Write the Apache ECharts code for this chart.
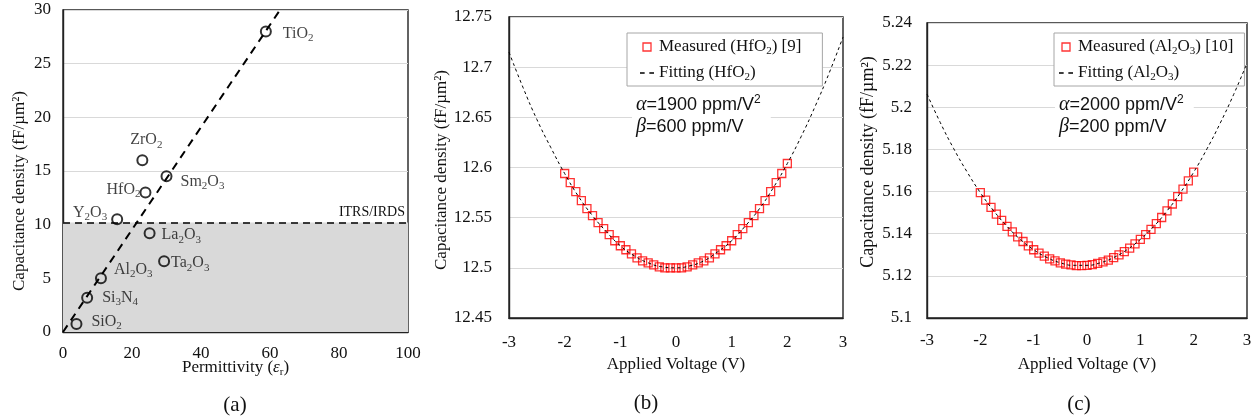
<!DOCTYPE html>
<html>
<head>
<meta charset="utf-8">
<script src="https://cdn.jsdelivr.net/npm/echarts@6/dist/echarts.min.js"></script>
<style>
html,body{margin:0;padding:0;background:#fff;}
#chart{width:1260px;height:420px;}
</style>
</head>
<body>
<div id="chart"></div>
<script>
// ---------- Panel (a) data ----------
const materials = ['SiO2', 'Si3N4', 'Al2O3', 'Y2O3', 'La2O3', 'Ta2O3', 'HfO2', 'ZrO2', 'Sm2O3', 'TiO2'];
const materialLabels = ['SiO{s|2}', 'Si{s|3}N{s|4}', 'Al{s|2}O{s|3}', 'Y{s|2}O{s|3}', 'La{s|2}O{s|3}', 'Ta{s|2}O{s|3}', 'HfO{s|2}', 'ZrO{s|2}', 'Sm{s|2}O{s|3}', 'TiO{s|2}'];
const permittivity = [3.9, 7, 11, 15.7, 25.1, 29.3, 23.9, 23, 30, 58.8];
const capDensity = [0.75, 3.2, 5.0, 10.5, 9.2, 6.6, 13.0, 16.0, 14.5, 28.0];
const fitPermittivity = [0, 62.9];
const fitCapDensity = [0, 30];
const itrsLevel = 10.2;

// ---------- Panels (b), (c) data ----------
const voltage = [-2.0,-1.9,-1.8,-1.7,-1.6,-1.5,-1.4,-1.3,-1.2,-1.1,-1.0,-0.9,-0.8,-0.7,-0.6,-0.5,-0.4,-0.3,-0.2,-0.1,0,
  0.1,0.2,0.3,0.4,0.5,0.6,0.7,0.8,0.9,1.0,1.1,1.2,1.3,1.4,1.5,1.6,1.7,1.8,1.9,2.0];
const hfMeasured = [12.594,12.585,12.576,12.567,12.559,12.552,12.545,12.539,12.533,12.527,12.522,12.518,12.514,12.510,12.507,12.505,12.503,12.501,12.500,12.500,12.500,
  12.500,12.501,12.503,12.505,12.507,12.510,12.514,12.518,12.522,12.527,12.533,12.539,12.545,12.552,12.559,12.567,12.576,12.585,12.594,12.604];
const alMeasured = [5.1595,5.1559,5.1525,5.1493,5.1463,5.1435,5.1409,5.1385,5.1363,5.1342,5.1324,5.1308,5.1294,5.1281,5.1271,5.1262,5.1256,5.1252,5.1249,5.1249,5.1250,
  5.1253,5.1259,5.1266,5.1275,5.1287,5.1300,5.1315,5.1332,5.1352,5.1373,5.1396,5.1421,5.1448,5.1477,5.1508,5.1541,5.1576,5.1612,5.1651,5.1692];
const fitVoltage = [-3,-2.75,-2.5,-2.25,-2,-1.75,-1.5,-1.25,-1,-0.75,-0.5,-0.25,0,0.25,0.5,0.75,1,1.25,1.5,1.75,2,2.25,2.5,2.75,3];
const hfFit = [12.715,12.680,12.648,12.620,12.594,12.571,12.552,12.536,12.522,12.512,12.505,12.501,12.500,12.502,12.507,12.516,12.527,12.542,12.559,12.580,12.604,12.631,12.661,12.694,12.730];
const alFit = [5.2063,5.1927,5.1804,5.1694,5.1595,5.1509,5.1435,5.1373,5.1324,5.1287,5.1262,5.1250,5.1250,5.1262,5.1287,5.1324,5.1373,5.1434,5.1508,5.1594,5.1692,5.1803,5.1926,5.2061,5.2209];

const seriesNames = ['Measured (HfO2) [9]', 'Fitting (HfO2)', 'Measured (Al2O3) [10]', 'Fitting (Al2O3)'];
const seriesLabels = ['Measured (HfO{s|2}) [9]', 'Fitting (HfO{s|2})', 'Measured (Al{s|2}O{s|3}) [10]', 'Fitting (Al{s|2}O{s|3})'];
const yTitle = 'Capacitance density (fF/\u00b5m\u00b2)';
const xTitleB = 'Applied Voltage (V)';
const annotB = '{i|\u03b1}=1900 ppm/V{p|2}\n{i|\u03b2}=600 ppm/V';
const annotC = '{i|\u03b1}=2000 ppm/V{p|2}\n{i|\u03b2}=200 ppm/V';

// ---------- styles ----------
const SERIF = "'Liberation Serif','Times New Roman',serif";
const SANS = "'Liberation Sans',Arial,sans-serif";
const TXT = '#111';
const subStyle = {fontSize: 11, lineHeight: 11, verticalAlign: 'bottom', fontFamily: SERIF, color: TXT};
const supStyle = {fontSize: 12, lineHeight: 12, verticalAlign: 'top', fontFamily: SANS, color: TXT};
const richSerif = {s: subStyle, i: {fontFamily: SERIF, fontStyle: 'italic', fontSize: 17, color: TXT}};
const labelPlacement = [
  {position: 'right', distance: 9, offset: [0, -2]},
  {position: 'right', distance: 9, offset: [0, 0]},
  {position: 'right', distance: 7, offset: [0, -9]},
  {position: 'left', distance: 4, offset: [0, -7]},
  {position: 'right', distance: 6, offset: [0, 2]},
  {position: 'right', distance: 1, offset: [0, 2]},
  {position: 'left', distance: -1, offset: [0, -3]},
  {position: 'top', distance: 4, offset: [4, 0]},
  {position: 'right', distance: 8, offset: [0, 5]},
  {position: 'right', distance: 11, offset: [0, 2]}
];
const squareIcon = 'path://M0,0L8,0L8,8L0,8Z';
const dashIcon = 'path://M0,0L4,0L4,1.3L0,1.3Z M8,0L12,0L12,1.3L8,1.3Z';
const measuredIconStyle = {color: 'rgba(255,255,255,0)', borderColor: '#ff0000', borderWidth: 1.3};
const fitIconStyle = {color: '#000', borderWidth: 0};

function axisCommon(extra) {
  return Object.assign({
    axisLine: {show: true, onZero: false, lineStyle: {color: '#222', width: 1.4}},
    axisTick: {show: false},
    axisLabel: {color: TXT, fontFamily: SERIF, fontSize: 17},
    splitLine: {show: false},
    nameMoveOverlap: false,
    nameTextStyle: {color: TXT, fontFamily: SERIF, fontSize: 17}
  }, extra);
}
const gridLine = {show: true, lineStyle: {color: '#d9d9d9', width: 1}};

const gridBase = {show: true, borderColor: '#222', borderWidth: 1.4, backgroundColor: 'rgba(0,0,0,0)', containLabel: false, outerBoundsMode: 'none'};

const chart = echarts.init(document.getElementById('chart'), null, {renderer: 'canvas'});

const scatterA = permittivity.map((x, i) => ({
  value: [x, capDensity[i]],
  name: materials[i],
  label: labelPlacement[i]
}));
const fitA = fitPermittivity.map((x, i) => [x, fitCapDensity[i]]);

const legendCommon = {
  orient: 'vertical', itemGap: 6, itemWidth: 14, itemHeight: 8,
  backgroundColor: '#fff', borderColor: '#a6a6a6', borderWidth: 1, borderRadius: 0,
  selectedMode: false, symbolKeepAspect: true,
  textStyle: {fontFamily: SERIF, fontSize: 17, lineHeight: 20, color: TXT, rich: {s: subStyle}},
  formatter: function (name) { return seriesLabels[seriesNames.indexOf(name)]; }
};

const option = {
  animation: false,
  backgroundColor: '#fff',
  grid: [
    Object.assign({left: 63, top: 10, width: 345, height: 322}, gridBase),
    Object.assign({left: 509, top: 17, width: 334, height: 301}, gridBase),
    Object.assign({left: 927, top: 23, width: 320, height: 295}, gridBase)
  ],
  xAxis: [
    axisCommon({gridIndex: 0, type: 'value', min: 0, max: 100, interval: 20,
      name: 'Permittivity ({i|\u03b5}{s|r})', nameLocation: 'middle', nameGap: 26,
      nameTextStyle: {color: TXT, fontFamily: SERIF, fontSize: 17, lineHeight: 20, rich: richSerif},
      axisLabel: {color: TXT, fontFamily: SERIF, fontSize: 17, margin: 13}}),
    axisCommon({gridIndex: 1, type: 'value', min: -3, max: 3, interval: 1,
      name: xTitleB, nameLocation: 'middle', nameGap: 38,
      axisLabel: {color: TXT, fontFamily: SERIF, fontSize: 17, margin: 16}}),
    axisCommon({gridIndex: 2, type: 'value', min: -3, max: 3, interval: 1,
      name: xTitleB, nameLocation: 'middle', nameGap: 38,
      axisLabel: {color: TXT, fontFamily: SERIF, fontSize: 17, margin: 14}})
  ],
  yAxis: [
    axisCommon({gridIndex: 0, type: 'value', min: 0, max: 30, interval: 5, splitLine: gridLine,
      axisLabel: {color: TXT, fontFamily: SERIF, fontSize: 17, margin: 12}}),
    axisCommon({gridIndex: 1, type: 'value', min: 12.45, max: 12.75, interval: 0.05, splitLine: gridLine,
      axisLabel: {color: TXT, fontFamily: SERIF, fontSize: 17, margin: 17}}),
    axisCommon({gridIndex: 2, type: 'value', min: 5.1, max: 5.24, interval: 0.02, splitLine: gridLine,
      axisLabel: {color: TXT, fontFamily: SERIF, fontSize: 17, margin: 15}})
  ],
  legend: [
    Object.assign({}, legendCommon, {
      data: [
        {name: seriesNames[0], icon: squareIcon, itemStyle: measuredIconStyle},
        {name: seriesNames[1], icon: dashIcon, itemStyle: fitIconStyle}
      ],
      left: 627, top: 33, padding: [4, 21, 3, 13]}),
    Object.assign({}, legendCommon, {
      data: [
        {name: seriesNames[2], icon: squareIcon, itemStyle: measuredIconStyle},
        {name: seriesNames[3], icon: dashIcon, itemStyle: fitIconStyle}
      ],
      left: 1054, top: 33, padding: [4, 11, 3, 5]})
  ],
  series: [
    {
      type: 'line', name: 'fitA', xAxisIndex: 0, yAxisIndex: 0,
      data: fitA, symbol: 'none', z: 3,
      lineStyle: {color: '#000', width: 2, type: [8, 6]},
      markArea: {silent: true, itemStyle: {color: '#d9d9d9'}, data: [[{yAxis: 0}, {yAxis: itrsLevel}]]},
      markLine: {silent: true, symbol: 'none',
        lineStyle: {color: '#000', width: 1.6, type: [7, 5]},
        label: {show: true, position: 'insideEndTop', formatter: 'ITRS/IRDS', color: TXT,
          fontFamily: SERIF, fontSize: 14, distance: 3},
        data: [{yAxis: itrsLevel}]}
    },
    {
      type: 'scatter', name: 'materials', xAxisIndex: 0, yAxisIndex: 0,
      data: scatterA, symbol: 'circle', symbolSize: 10, z: 4,
      itemStyle: {color: 'rgba(0,0,0,0)', borderColor: '#000', borderWidth: 2},
      label: {show: true, color: TXT, fontFamily: SERIF, fontSize: 16, lineHeight: 20,
        rich: {s: subStyle},
        formatter: function (p) { return materialLabels[p.dataIndex]; }}
    },
    {
      type: 'scatter', name: seriesNames[0], xAxisIndex: 1, yAxisIndex: 1,
      data: voltage.map((v, i) => [v, hfMeasured[i]]),
      symbol: 'rect', symbolSize: 8, z: 3,
      itemStyle: {color: 'rgba(255,255,255,0)', borderColor: '#ff0000', borderWidth: 1.3}
    },
    {
      type: 'line', name: seriesNames[1], xAxisIndex: 1, yAxisIndex: 1,
      data: fitVoltage.map((v, i) => [v, hfFit[i]]), smooth: true,
      symbol: 'none', z: 4, color: '#000', lineStyle: {color: '#000', width: 1, type: [3, 3]}
    },
    {
      type: 'scatter', name: seriesNames[2], xAxisIndex: 2, yAxisIndex: 2,
      data: voltage.map((v, i) => [v, alMeasured[i]]),
      symbol: 'rect', symbolSize: 8, z: 3,
      itemStyle: {color: 'rgba(255,255,255,0)', borderColor: '#ff0000', borderWidth: 1.3}
    },
    {
      type: 'line', name: seriesNames[3], xAxisIndex: 2, yAxisIndex: 2,
      data: fitVoltage.map((v, i) => [v, alFit[i]]), smooth: true,
      symbol: 'none', z: 4, color: '#000', lineStyle: {color: '#000', width: 1, type: [3, 3]}
    }
  ],
  graphic: [
    {type: 'text', x: 20, y: 191, rotation: Math.PI / 2, z: 10,
      style: {text: yTitle, fill: TXT, fontFamily: SERIF, fontSize: 17, align: 'center', verticalAlign: 'middle', textAlign: 'center', textVerticalAlign: 'middle'}},
    {type: 'text', x: 442, y: 170, rotation: Math.PI / 2, z: 10,
      style: {text: yTitle, fill: TXT, fontFamily: SERIF, fontSize: 17, align: 'center', verticalAlign: 'middle', textAlign: 'center', textVerticalAlign: 'middle'}},
    {type: 'text', x: 868, y: 162, rotation: Math.PI / 2, z: 10,
      style: {text: yTitle, fill: TXT, fontFamily: SERIF, fontSize: 18, align: 'center', verticalAlign: 'middle', textAlign: 'center', textVerticalAlign: 'middle'}},
    {type: 'text', x: 632, y: 93, z: 10,
      style: {text: annotB, fill: TXT, fontFamily: SANS, fontSize: 18, lineHeight: 22,
        backgroundColor: '#fff', padding: [1, 10, 1, 4],
        rich: {i: {fontFamily: SERIF, fontStyle: 'italic', fontSize: 20, lineHeight: 22, color: TXT}, p: supStyle}}},
    {type: 'text', x: 1055, y: 93, z: 10,
      style: {text: annotC, fill: TXT, fontFamily: SANS, fontSize: 18, lineHeight: 22,
        backgroundColor: '#fff', padding: [1, 10, 1, 4],
        rich: {i: {fontFamily: SERIF, fontStyle: 'italic', fontSize: 20, lineHeight: 22, color: TXT}, p: supStyle}}},
    {type: 'text', x: 235, y: 405, z: 10,
      style: {text: '(a)', fill: TXT, fontFamily: SERIF, fontSize: 21, align: 'center', verticalAlign: 'middle', textAlign: 'center', textVerticalAlign: 'middle'}},
    {type: 'text', x: 646, y: 403, z: 10,
      style: {text: '(b)', fill: TXT, fontFamily: SERIF, fontSize: 21, align: 'center', verticalAlign: 'middle', textAlign: 'center', textVerticalAlign: 'middle'}},
    {type: 'text', x: 1079, y: 404, z: 10,
      style: {text: '(c)', fill: TXT, fontFamily: SERIF, fontSize: 21, align: 'center', verticalAlign: 'middle', textAlign: 'center', textVerticalAlign: 'middle'}}
  ]
};
chart.setOption(option);
</script>
</body>
</html>
